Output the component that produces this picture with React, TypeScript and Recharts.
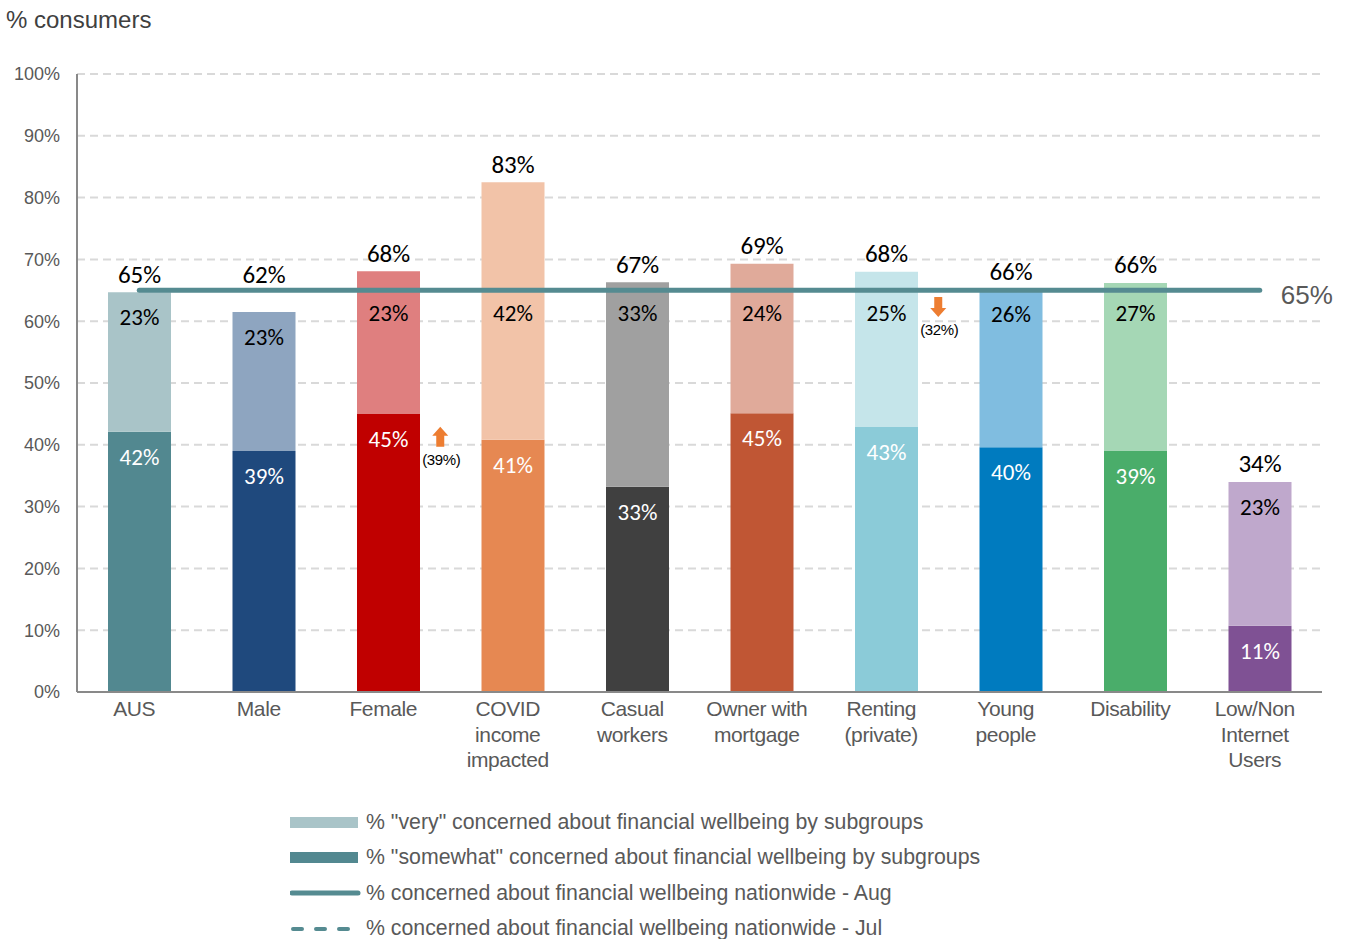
import * as React from 'react';
import {
    ComposedChart, Bar, Line, Scatter, XAxis, YAxis, CartesianGrid, Legend, LabelList, Cell
} from 'recharts';

// subgroups along the x axis
const categories = [
    'AUS', 'Male', 'Female', 'COVID\nincome\nimpacted', 'Casual\nworkers',
    'Owner with\nmortgage', 'Renting\n(private)', 'Young\npeople', 'Disability', 'Low/Non\nInternet\nUsers'
];

// % "somewhat" concerned (bottom segment) and % "very" concerned (top segment)
const somewhat = [42.1, 39.0, 45.0, 40.8, 33.2, 45.1, 42.9, 39.6, 39.0, 10.7];
const very = [22.6, 22.5, 23.1, 41.7, 33.1, 24.2, 25.1, 25.6, 27.2, 23.3];

// printed labels
const somewhatLabels = [42, 39, 45, 41, 33, 45, 43, 40, 39, 11];
const veryLabels = [23, 23, 23, 42, 33, 24, 25, 26, 27, 23];
const totalLabels = [65, 62, 68, 83, 67, 69, 68, 66, 66, 34];

// nationwide line (Aug)
const nationwideAug = [65, 65, 65, 65, 65, 65, 65, 65, 65, 65];

// month-on-month change markers
const changeDir = [null, null, 'up', null, null, null, 'down', null, null, null];
const changePrev = [null, null, 39, null, null, null, 32, null, null, null];
const changeLevel = [null, null, 41.3, null, null, null, 62.3, null, null, null];

const darkColors = ['#528890', '#1f497d', '#c00000', '#e68852', '#404040', '#c05634', '#8bcbd8', '#007bbf', '#4aad6a', '#7f5194'];
const lightColors = ['#a9c4c8', '#8ea5c0', '#df7f7f', '#f2c3a8', '#a0a0a0', '#e0aa9a', '#c5e5ea', '#80bde0', '#a5d7b5', '#bfa8cc'];

const yTicks = [0, 10, 20, 30, 40, 50, 60, 70, 80, 90, 100];

const data = categories.map((name, i) => ({
    name,
    idx: i,
    somewhat: somewhat[i],
    very: very[i],
    aug: nationwideAug[i],
    arrow: changeDir[i],
    prev: changePrev[i],
    level: changeLevel[i],
}));

const W = 1350;
const H = 939;
const MARGIN = { top: 74, right: 28, bottom: 217, left: 17 };
const PLOT_H = H - MARGIN.top - MARGIN.bottom - 30;
const yOf = (v: number) => MARGIN.top + PLOT_H * (1 - v / 100);

const LABEL_FONT = "Carlito, 'Liberation Sans', Arial, sans-serif";
const SANS = "'Liberation Sans', Arial, sans-serif";
const GREY = '#595959';

const CategoryTick = (props: any) => {
    const { x, y, payload } = props;
    const lines = String(payload.value).split('\n');
    const tx = x - 5;
    return (
        <text x={tx} y={y} textAnchor="middle" fill={GREY} fontSize={21} fontFamily={SANS} letterSpacing={-0.4}>
            {lines.map((l, i) => (
                <tspan key={i} x={tx} dy={i === 0 ? 16 : 25.5}>{l}</tspan>
            ))}
        </text>
    );
};

const BottomLabel = (props: any) => {
    const { x, y, width, value } = props;
    return (
        <text x={x + width / 2} y={y + 25} textAnchor="middle" dominantBaseline="central"
            fill="#ffffff" fontSize={23} fontFamily={LABEL_FONT}>
            {somewhatLabels[value]}%
        </text>
    );
};

const TopLabel = (props: any) => {
    const { x, y, width, value } = props;
    const cx = x + width / 2;
    const lineY = yOf(65);
    const inner = Math.max(y + 25, lineY + 23);
    let total = y - 18;
    if (Math.abs(total - lineY) < 15) total = lineY - 16;
    return (
        <g>
            <text x={cx} y={total} textAnchor="middle" dominantBaseline="central"
                fill="#000" fontSize={25} fontFamily={LABEL_FONT}>
                {totalLabels[value]}%
            </text>
            <text x={cx} y={inner} textAnchor="middle" dominantBaseline="central"
                fill="#000" fontSize={23} fontFamily={LABEL_FONT}>
                {veryLabels[value]}%
            </text>
        </g>
    );
};

const LineEndLabel = (props: any) => {
    const { x, y, index } = props;
    if (index !== categories.length - 1) return null;
    return (
        <text x={x + 21} y={y + 5} dominantBaseline="central" fill={GREY} fontSize={26} fontFamily={SANS}>
            65%
        </text>
    );
};

const ChangeArrow = (props: any) => {
    const { cx, cy, payload } = props;
    if (!payload || !payload.arrow || cx == null || cy == null || isNaN(cy)) return <g />;
    const ax = cx + 52;
    const s = payload.arrow === 'up' ? 1 : -1;
    const pts = [
        [ax, cy - 10 * s], [ax + 8, cy - 1 * s], [ax + 4, cy - 1 * s], [ax + 4, cy + 10 * s],
        [ax - 4, cy + 10 * s], [ax - 4, cy - 1 * s], [ax - 8, cy - 1 * s]
    ].map(p => p.join(',')).join(' ');
    return (
        <g>
            <polygon points={pts} fill="#ed7d31" />
            <text x={ax + 1} y={cy + 23} textAnchor="middle" dominantBaseline="central"
                fill="#000" fontSize={15} fontFamily={SANS} letterSpacing={-0.4}>
                ({payload.prev}%)
            </text>
        </g>
    );
};

const legendItems = [
    { kind: 'rect', color: '#a9c4c8', text: '% "very" concerned about financial wellbeing by subgroups' },
    { kind: 'rect', color: '#528890', text: '% "somewhat" concerned about financial wellbeing by subgroups' },
    { kind: 'line', color: '#558b91', text: '% concerned about financial wellbeing nationwide - Aug' },
    { kind: 'dash', color: '#558b91', text: '% concerned about financial wellbeing nationwide - Jul' },
];

const LegendBox = () => (
    <div>
        {legendItems.map((it, i) => (
            <div key={i} style={{ display: 'flex', alignItems: 'center', height: 35.3 }}>
                <svg width={72} height={20} style={{ marginRight: 4 }}>
                    {it.kind === 'rect' && <rect x={0} y={4} width={68} height={11} fill={it.color} />}
                    {it.kind === 'line' && <line x1={2} y1={10} x2={68} y2={10} stroke={it.color} strokeWidth={5} strokeLinecap="round" />}
                    {it.kind === 'dash' && <line x1={3} y1={10} x2={68} y2={10} stroke={it.color} strokeWidth={4} strokeDasharray="9 14" strokeLinecap="round" />}
                </svg>
                <span style={{ fontSize: 21.3, color: GREY, fontFamily: SANS, whiteSpace: 'nowrap' }}>
                    {it.text}
                </span>
            </div>
        ))}
    </div>
);

export default function App() {
    return (
        <div style={{ position: 'absolute', left: 0, top: 0, width: W, height: H, background: '#fff' }}>
            <div style={{
                position: 'absolute', left: 6, top: 6, fontSize: 24, color: '#404040', fontFamily: SANS
            }}>
                % consumers
            </div>
            <ComposedChart width={W} height={H} data={data} margin={MARGIN} barCategoryGap={0}>
                <CartesianGrid vertical={false} stroke="#d9d9d9" strokeWidth={2} strokeDasharray="8 5" />
                <XAxis dataKey="name" interval={0} height={30} tickLine={false}
                    axisLine={{ stroke: '#898989', strokeWidth: 2 }} tick={<CategoryTick />} />
                <YAxis width={60} domain={[0, 100]} ticks={yTicks} tickLine={false} tickSize={15} tickMargin={2}
                    tickFormatter={(v: number) => `${v}%`}
                    axisLine={{ stroke: '#898989', strokeWidth: 2 }}
                    tick={{ fill: GREY, fontSize: 18, fontFamily: SANS }} />
                <Legend layout="vertical" verticalAlign="middle" align="center" content={() => <LegendBox />}
                    wrapperStyle={{ left: 290, top: 805, width: 800, height: 145 }} />
                <Bar dataKey="somewhat" stackId="a" barSize={63} isAnimationActive={false}>
                    {data.map((d, i) => <Cell key={i} fill={darkColors[i]} />)}
                    <LabelList dataKey="idx" content={<BottomLabel />} />
                </Bar>
                <Bar dataKey="very" stackId="a" barSize={63} isAnimationActive={false}>
                    {data.map((d, i) => <Cell key={i} fill={lightColors[i]} />)}
                    <LabelList dataKey="idx" content={<TopLabel />} />
                </Bar>
                <Line dataKey="aug" stroke="#558b91" strokeWidth={5} strokeLinecap="round" dot={false}
                    activeDot={false} isAnimationActive={false}>
                    <LabelList dataKey="aug" content={<LineEndLabel />} />
                </Line>
                <Scatter dataKey="level" shape={<ChangeArrow />} isAnimationActive={false} />
            </ComposedChart>
        </div>
    );
}
